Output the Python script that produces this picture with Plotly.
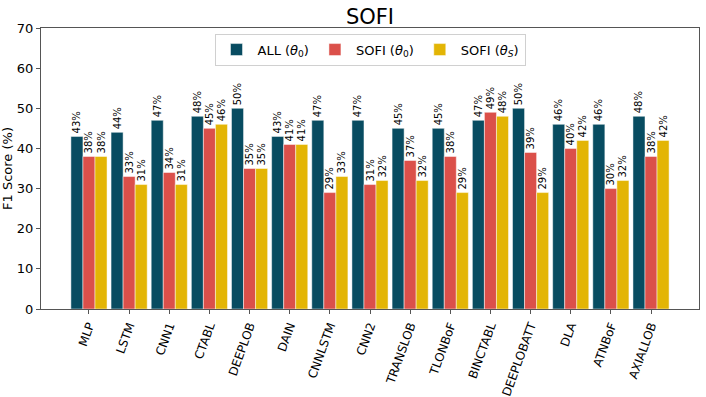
import plotly.graph_objects as go

models = ['MLP', 'LSTM', 'CNN1', 'CTABL', 'DEEPLOB', 'DAIN', 'CNNLSTM', 'CNN2',
          'TRANSLOB', 'TLONBoF', 'BINCTABL', 'DEEPLOBATT', 'DLA', 'ATNBoF', 'AXIALLOB']
all_theta0 = [43, 44, 47, 48, 50, 43, 47, 47, 45, 45, 47, 50, 46, 46, 48]
sofi_theta0 = [38, 33, 34, 45, 35, 41, 29, 31, 37, 38, 49, 39, 40, 30, 38]
sofi_thetaS = [38, 31, 31, 46, 35, 41, 33, 32, 32, 29, 48, 29, 42, 32, 42]

series = [
    ('ALL (<i>θ</i><sub>0</sub>)', all_theta0, '#084C61'),
    ('SOFI (<i>θ</i><sub>0</sub>)', sofi_theta0, '#DB504A'),
    ('SOFI (<i>θ</i><sub><i>S</i></sub>)', sofi_thetaS, '#E3B505'),
]

font = 'DejaVu Sans, Arial, sans-serif'
x = list(range(len(models)))

fig = go.Figure()
for name, vals, color in series:
    fig.add_trace(go.Bar(
        x=x, y=vals, name=name,
        marker=dict(color=color, line=dict(color='rgba(255,255,255,0.6)', width=0.8)),
        text=[f'{v}%' for v in vals],
        textposition='outside', textangle=-90,
        textfont=dict(size=10, color='black', family=font),
        cliponaxis=False,
    ))

fig.update_layout(
    width=706, height=397,
    barmode='group', bargap=0.1, bargroupgap=0,
    plot_bgcolor='white', paper_bgcolor='white',
    font=dict(family=font, color='black'),
    margin=dict(l=41, r=7, t=28, b=88),
    uniformtext=dict(minsize=10, mode='show'),
    title=dict(text='SOFI', x=0.5, xref='paper', xanchor='center',
               y=0.977, yanchor='top', font=dict(size=21)),
    legend=dict(orientation='h', x=0.5, xanchor='center', y=0.98, yanchor='top',
                bgcolor='rgba(255,255,255,0.8)', bordercolor='#d0d0d0', borderwidth=1,
                font=dict(size=13), itemwidth=32),
    showlegend=True,
)
fig.update_xaxes(
    tickmode='array', tickvals=x, ticktext=models, tickangle=-70,
    range=[-1.195, 14 + 1.195], tickfont=dict(size=12), automargin=False,
    showline=True, linecolor='#555', linewidth=1, mirror=True,
    ticks='outside', ticklen=4, tickcolor='#555', showgrid=False,
)
fig.update_yaxes(
    range=[0, 70], dtick=10, tickfont=dict(size=13), automargin=False,
    title=dict(text='F1 Score (%)', font=dict(size=13), standoff=2),
    showline=True, linecolor='#555', linewidth=1, mirror=True,
    ticks='outside', ticklen=4, tickcolor='#555', showgrid=False, zeroline=False,
)

# drop the browser's default 8px body margin so the figure sits at the page corner
fig.write_html('out.html', config={'displayModeBar': False},
               post_script="document.body.style.margin='0px';")
